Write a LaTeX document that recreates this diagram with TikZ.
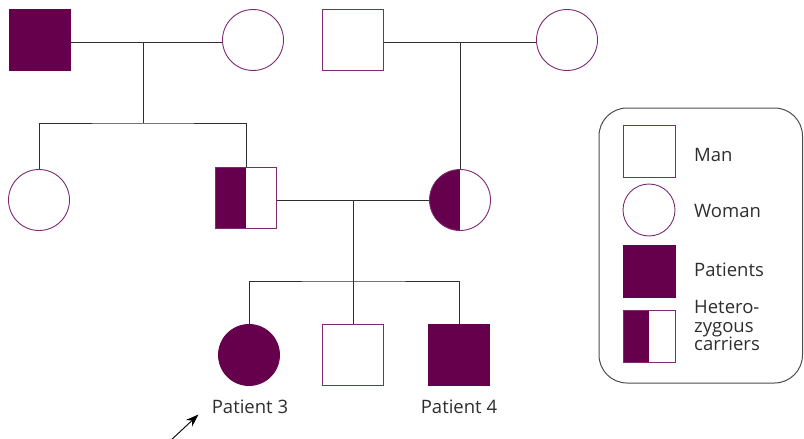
\documentclass[tikz,border=0pt]{standalone}
\usepackage{fontspec}
\setmainfont{Open Sans}
\usetikzlibrary{positioning,arrows.meta}

\definecolor{patient}{HTML}{66004D}
\definecolor{rim}{HTML}{7E2A72}
\definecolor{kin}{HTML}{2E2E2E}

\tikzset{
  male/.style={draw=rim, line width=0.9pt, minimum size=61pt, inner sep=0pt},
  female/.style={circle, draw=rim, line width=0.9pt, minimum size=61pt, inner sep=0pt},
  sick/.style={fill=patient, draw=patient},
  halfsick/.style={path picture={\fill[patient] (path picture bounding box.south west) rectangle (path picture bounding box.north);}},
  kinline/.style={draw=kin, line width=1pt},
  tag/.style={font=\fontsize{18.5}{18.5}\selectfont, text=kin, inner sep=0pt}
}

\begin{document}
\begin{tikzpicture}[x=1pt, y=-1pt]
    \useasboundingbox (0,0) rectangle (804,439);

    % first generation
    \node[male,sick] (GrandpaA) at (40,40) {};
    \node[female] (GrandmaA) at (253,40) {};
    \node[male] (GrandpaB) at (353,40) {};
    \node[female] (GrandmaB) at (567,40) {};

    % second generation
    \node[female] (Aunt) at (39,200) {};
    \node[male,halfsick] (Father) at (246,198) {};
    \node[female,halfsick] (Mother) at (460,200) {};

    % third generation
    \node[female,sick] (PatientC) at (249,355) {};
    \node[male] (Brother) at (353,355) {};
    \node[male,sick] (PatientD) at (459,355) {};

    \node[tag, anchor=base] (LabelC) at (250,413.5) {Patient 3};
    \node[tag, anchor=base] (LabelD) at (459,413.5) {Patient 4};

    \coordinate (MarriageA) at (143,42);
    \coordinate (SibsA) at (143,123);
    \coordinate (MarriageB) at (460,42);
    \coordinate (MarriageC) at (353,200);
    \coordinate (SibsC) at (353,281);
    \coordinate (Pointer) at (170,441);

    \draw[kinline] (GrandpaA.east |- MarriageA) -- (GrandmaA.west |- MarriageA);
    \draw[kinline] (MarriageA) -- (SibsA);
    \draw[kinline] (Aunt.north) |- (SibsA) -| (Father.north);
    \draw[kinline] (GrandpaB.east |- MarriageB) -- (GrandmaB.west |- MarriageB);
    \draw[kinline] (MarriageB) -- (Mother.north);
    \draw[kinline] (Father.east |- MarriageC) -- (Mother.west);
    \draw[kinline] (MarriageC) -- (SibsC);
    \draw[kinline] (PatientC.north) |- (SibsC) -| (PatientD.north);
    \draw[kinline] (SibsC) -- (Brother.north);
    \draw[line width=0.9pt, -{Stealth[length=13pt, width=9pt]}] (Pointer) -- (198.5,414.5);

    % legend
    \draw[draw=kin!85, line width=1pt, rounded corners=28pt] (599,108) rectangle (802.5,383);
    \node[male, minimum size=52pt] (KeyMan) at (649,151.5) {};
    \node[female, minimum size=52pt] (KeyWoman) at (649,210) {};
    \node[male, sick, minimum size=52pt] (KeyPatient) at (649,271) {};
    \node[male, halfsick, minimum size=52pt] (KeyCarrier) at (649,336.5) {};
    \node[tag, anchor=base west] (TextMan) at (694,161) {Man};
    \node[tag, anchor=base west] (TextWoman) at (694,217.3) {Woman};
    \node[tag, anchor=base west] (TextPatient) at (694,276.5) {Patients};
    \node[tag, anchor=north west, align=left] (TextCarrier) at (694,300.5) {Hetero-\\zygous\\carriers};
\end{tikzpicture}
\end{document}
